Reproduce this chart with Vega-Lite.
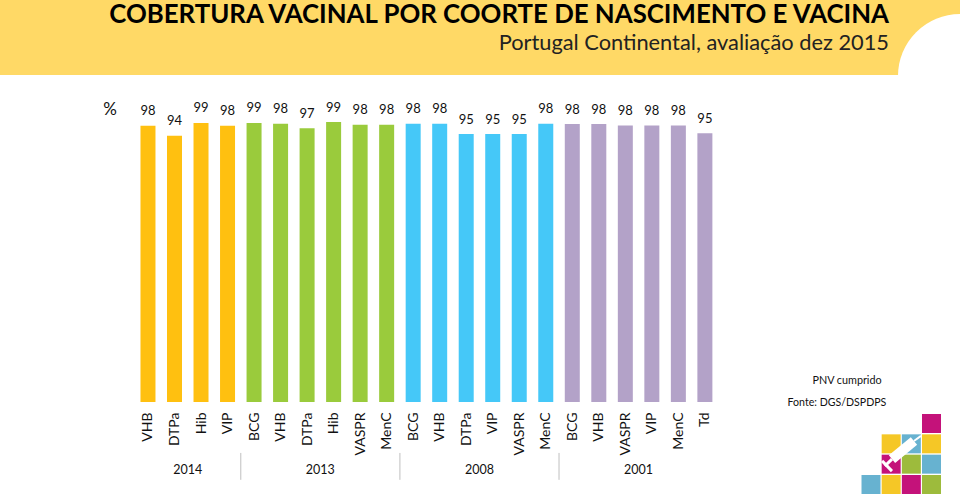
{
"$schema":"https://vega.github.io/schema/vega-lite/v6.json",
"width":960,"height":402,
"autosize":{"type":"none"},
"padding":{"left":0,"top":0,"right":0,"bottom":94},
"background":"white",
"view":{"stroke":null},
"title":{"text":"COBERTURA VACINAL POR COORTE DE NASCIMENTO E VACINA","subtitle":"Portugal Continental, avaliação dez 2015","anchor":"end","frame":"group","orient":"top","offset":-56,"dx":-71,"font":"Lato","fontWeight":"bold","fontSize":25.8,"color":"#000000","subtitleFont":"Lato","subtitleFontSize":21.8,"subtitleColor":"#222222","subtitlePadding":4},
"datasets":{
"um":[{"item":"decoracao"}],
"barras":[
{"n":1,"coorte":"2014","vacina":"VHB","cobertura":97.6},
{"n":2,"coorte":"2014","vacina":"DTPa","cobertura":94.1},
{"n":3,"coorte":"2014","vacina":"Hib","cobertura":98.6},
{"n":4,"coorte":"2014","vacina":"VIP","cobertura":97.6},
{"n":5,"coorte":"2013","vacina":"BCG","cobertura":98.6},
{"n":6,"coorte":"2013","vacina":"VHB","cobertura":98.3},
{"n":7,"coorte":"2013","vacina":"DTPa","cobertura":96.7},
{"n":8,"coorte":"2013","vacina":"Hib","cobertura":98.9},
{"n":9,"coorte":"2013","vacina":"VASPR","cobertura":98.0},
{"n":10,"coorte":"2013","vacina":"MenC","cobertura":98.0},
{"n":11,"coorte":"2008","vacina":"BCG","cobertura":98.3},
{"n":12,"coorte":"2008","vacina":"VHB","cobertura":98.3},
{"n":13,"coorte":"2008","vacina":"DTPa","cobertura":94.7},
{"n":14,"coorte":"2008","vacina":"VIP","cobertura":94.7},
{"n":15,"coorte":"2008","vacina":"VASPR","cobertura":94.7},
{"n":16,"coorte":"2008","vacina":"MenC","cobertura":98.3},
{"n":17,"coorte":"2001","vacina":"BCG","cobertura":98.2},
{"n":18,"coorte":"2001","vacina":"VHB","cobertura":98.2},
{"n":19,"coorte":"2001","vacina":"VASPR","cobertura":97.7},
{"n":20,"coorte":"2001","vacina":"VIP","cobertura":97.7},
{"n":21,"coorte":"2001","vacina":"MenC","cobertura":97.7},
{"n":22,"coorte":"2001","vacina":"Td","cobertura":95.0}
],
"cortes":[{"depois":4.5},{"depois":10.5},{"depois":16.5}],
"logo":[
{"col":3,"lin":0,"cor":"magenta"},
{"col":1,"lin":1,"cor":"amarelo"},{"col":2,"lin":1,"cor":"azul"},{"col":3,"lin":1,"cor":"amarelo"},
{"col":1,"lin":2,"cor":"magenta"},{"col":2,"lin":2,"cor":"verde"},{"col":3,"lin":2,"cor":"azul"},
{"col":0,"lin":3,"cor":"azul"},{"col":1,"lin":3,"cor":"amarelo"},{"col":2,"lin":3,"cor":"magenta"},{"col":3,"lin":3,"cor":"verde"}
]
},
"resolve":{"scale":{"x":"independent","y":"independent","color":"independent"}},
"layer":[
{
"layer":[
{"data":{"name":"um"},"mark":{"type":"rect","x":0,"x2":960,"y":0,"y2":75,"color":"#FFD966"},"encoding":{}},
{"data":{"name":"um"},"mark":{"type":"arc","x":960,"y":76,"radius":62,"theta":-1.5708,"theta2":0,"color":"#FFFFFF"},"encoding":{}},
{"data":{"name":"barras"},
 "mark":{"type":"bar","size":15},
 "encoding":{
  "x":{"field":"n","type":"quantitative","scale":{"domain":[-4.58,31.62],"nice":false,"zero":false,"padding":0},
   "axis":{"values":[1,2,3,4,5,6,7,8,9,10,11,12,13,14,15,16,17,18,19,20,21,22],
    "labelExpr":"['VHB','DTPa','Hib','VIP','BCG','VHB','DTPa','Hib','VASPR','MenC','BCG','VHB','DTPa','VIP','VASPR','MenC','BCG','VHB','VASPR','VIP','MenC','Td'][datum.value-1]",
    "title":null,"grid":false,"domain":false,"ticks":false,"labelAngle":-90,"labelAlign":"right","labelBaseline":"middle","labelFont":"Lato","labelFontSize":14,"labelColor":"#111111","labelPadding":10,"labelOverlap":false,"labelFlush":false}},
  "y":{"field":"cobertura","type":"quantitative","scale":{"domain":[0,142.05],"nice":false},"axis":null},
  "color":{"field":"coorte","type":"nominal","scale":{"domain":["2014","2013","2008","2001"],"range":["#FFC010","#9ACB3C","#45C8F8","#B3A2C8"]},"legend":null}
 }},
{"data":{"name":"barras"},
 "mark":{"type":"text","dy":-14.5,"font":"Lato","fontSize":13,"color":"#111111"},
 "encoding":{
  "x":{"field":"n","type":"quantitative"},
  "y":{"field":"cobertura","type":"quantitative"},
  "text":{"field":"cobertura","type":"quantitative","format":".0f"}
 }},
{"data":{"name":"barras"},
 "transform":[{"aggregate":[{"op":"mean","field":"n","as":"meio"}],"groupby":["coorte"]}],
 "mark":{"type":"text","font":"Lato","fontSize":12.5,"color":"#111111"},
 "encoding":{
  "x":{"field":"meio","type":"quantitative"},
  "y":{"datum":-24.2,"type":"quantitative"},
  "text":{"field":"coorte","type":"nominal"}
 }},
{"data":{"name":"cortes"},
 "mark":{"type":"rule","color":"#BFBFBF","strokeWidth":1},
 "encoding":{
  "x":{"field":"depois","type":"quantitative"},
  "y":{"datum":-18,"type":"quantitative"},
  "y2":{"datum":-27.5}
 }},
{"data":{"name":"um"},"mark":{"type":"text","text":"%","font":"Lato","fontSize":17,"color":"#111111"},
 "encoding":{"x":{"datum":-0.43,"type":"quantitative"},"y":{"datum":103.2,"type":"quantitative"}}},
{"data":{"name":"um"},"mark":{"type":"text","text":"PNV cumprido","font":"Lato","fontSize":10.8,"color":"#111111"},
 "encoding":{"x":{"datum":27.36,"type":"quantitative"},"y":{"datum":7.4,"type":"quantitative"}}},
{"data":{"name":"um"},"mark":{"type":"text","text":"Fonte: DGS/DSPDPS","font":"Lato","fontSize":10.6,"color":"#111111"},
 "encoding":{"x":{"datum":26.98,"type":"quantitative"},"y":{"datum":-0.35,"type":"quantitative"}}}
]
},
{
"layer":[
{"data":{"name":"logo"},
 "mark":{"type":"square","size":361,"filled":true,"opacity":1},
 "encoding":{
  "x":{"field":"col","type":"quantitative","scale":{"domain":[0,3],"range":[871,931.5],"nice":false,"zero":false},"axis":null},
  "y":{"field":"lin","type":"quantitative","scale":{"domain":[0,3],"range":[423.5,484.5],"nice":false,"zero":false},"axis":null},
  "color":{"field":"cor","type":"nominal","scale":{"domain":["magenta","amarelo","azul","verde"],"range":["#C4127A","#F5C726","#67B2D0","#9DBB3C"]},"legend":null}
 }},
{"data":{"name":"um"},"mark":{"type":"rule","color":"white","strokeWidth":10},
 "encoding":{"x":{"datum":1.04,"type":"quantitative"},"y":{"datum":1.75,"type":"quantitative"},"x2":{"datum":2.13},"y2":{"datum":0.86}}},
{"data":{"name":"um"},"mark":{"type":"rule","color":"white","strokeWidth":2},
 "encoding":{"x":{"datum":2.13,"type":"quantitative"},"y":{"datum":0.86,"type":"quantitative"},"x2":{"datum":2.48},"y2":{"datum":0.61}}},
{"data":{"name":"um"},"mark":{"type":"rule","color":"white","strokeWidth":3},
 "encoding":{"x":{"datum":1.04,"type":"quantitative"},"y":{"datum":1.75,"type":"quantitative"},"x2":{"datum":0.69},"y2":{"datum":2.09}}},
{"data":{"name":"um"},"mark":{"type":"rule","color":"white","strokeWidth":3},
 "encoding":{"x":{"datum":0.55,"type":"quantitative"},"y":{"datum":1.84,"type":"quantitative"},"x2":{"datum":1.04},"y2":{"datum":2.34}}}
]
}
]
}
